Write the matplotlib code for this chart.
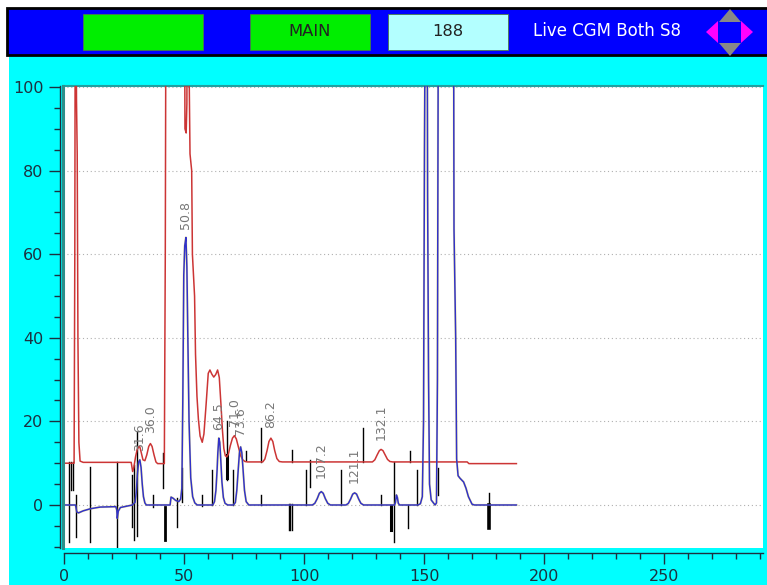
import matplotlib
matplotlib.use("Agg")
import matplotlib.pyplot as plt
from matplotlib.patches import Rectangle, Polygon
from matplotlib.ticker import MultipleLocator

W, H = 767, 585

# detector traces (time, signal)
red_t = [0, 4.2, 4.5, 4.7, 5.0, 5.2, 5.5, 5.8, 6.2, 6.7, 8, 28, 28.6, 29.1, 29.8, 30.5,
         31.2, 31.6, 32.2, 32.9, 33.7, 34.5, 35.3, 36.0, 36.7, 37.5, 38.3, 39, 41.8, 42.2,
         42.5, 50.2, 50.4, 50.9, 51.2, 51.4, 52.0, 52.2, 52.5, 53.2, 53.5, 54.4, 54.8,
         55.4, 56.0, 56.7, 57.6, 58.3, 59.2, 60.1, 60.8, 61.6, 62.4, 63.2, 64.0, 64.7,
         65.4, 66.0, 66.6, 67.2, 67.8, 68.5, 69.3, 70.2, 71.0, 71.8, 72.7, 73.6, 74.5,
         75.4, 76.5, 82.8, 83.7, 84.6, 85.4, 86.2, 87.0, 87.8, 88.7, 89.7, 91, 128.5,
         129.5, 130.5, 131.4, 132.1, 132.9, 133.8, 134.8, 135.8, 137, 168, 168.7, 188.5]
red_v = [10, 10, 60, 130, 130, 97, 84, 40, 15, 10.5, 10.2, 10.2, 8, 9, 11.5, 13.3,
         14, 13.9, 12.5, 10.8, 10.6, 12, 14, 14.7, 14, 12, 10.3, 9.9, 9.9, 60,
         130, 130, 90, 89, 96, 130, 130, 100, 84, 80, 60, 50, 36,
         26, 20.5, 16.5, 15, 17, 24, 31.5, 32.3, 31.3, 30.6, 31.2, 32.3, 30.5,
         24, 18, 13.5, 11.8, 11.5, 12.2, 14.2, 16, 16.6, 15.8, 13.8, 11.8, 10.8,
         10.4, 10.3, 10.3, 11, 13, 15.2, 16, 15.2, 13, 11.1, 10.4, 10.3, 10.3,
         10.8, 12, 13, 13.3, 13, 12, 10.9, 10.4, 10.3, 10.3, 9.9, 9.9]

blue_t = [0, 4.8, 5.3, 6.0, 8, 11, 15, 21.6, 22.0, 22.2, 22.6, 23.5, 26, 28.5, 29.1,
          29.6, 30.1, 30.6, 31.1, 31.6, 32.1, 32.6, 33.1, 33.7, 34.3, 44.2, 44.6,
          45.5, 46.5, 47.8, 48.6, 49.1, 49.5, 49.9, 50.3, 50.8, 51.2, 51.6, 52.1,
          52.8, 53.6, 54.5, 55.5, 62.0, 62.7, 63.3, 63.8, 64.1, 64.5, 64.9, 65.3,
          65.8, 66.4, 67.1, 68.2, 70.6, 71.4, 72.0, 72.6, 73.1, 73.6, 74.1, 74.6,
          75.2, 75.9, 77.0, 103.5, 104.5, 105.5, 106.4, 107.2, 108.0, 108.9, 109.9,
          111.0, 117.5, 118.5, 119.4, 120.3, 121.1, 121.9, 122.8, 123.7, 124.8,
          137.7, 138.1, 138.5, 138.9, 139.3, 139.8, 147.5, 148.5, 149.3, 149.8,
          150.2, 150.6, 151.3, 151.5, 151.9, 152.3, 153.0, 154.6, 155.2, 155.6,
          156.0, 162.3, 162.5, 163.2, 163.6, 164.2, 165.0, 166.5, 167.5, 168.5,
          170.0, 171.0, 188.5]
blue_v = [0, 0, -1.6, -1.9, -1.4, -0.9, -0.5, -0.4, -1.2, -3.2, -1.5, -0.6, -0.3, 0, 0.4,
          0.6, 3, 7.5, 10.3, 10.8, 9, 5, 2, 0.5, 0, 0, 1.9,
          1.6, 1.1, 0.8, 1.4, 4, 25, 55, 62, 64, 57, 40, 20,
          6.5, 2, 0.5, 0, 0, 0.8, 3.5, 8.5, 12.5, 16, 15, 11,
          5.5, 1.8, 0.4, 0, 0, 0.6, 3.5, 8.5, 12.5, 13.9, 12.5, 8.5,
          3.5, 0.8, 0, 0, 0.4, 1.5, 2.8, 3.2, 2.8, 1.5, 0.4,
          0, 0, 0.4, 1.4, 2.6, 2.9, 2.6, 1.4, 0.4, 0,
          0, 0.6, 2.4, 1.8, 0.4, 0, 0, 0.3, 2, 20,
          85.7, 130, 130, 74, 30, 5, 1.2, 0, 0.5, 30,
          130, 130, 66, 40, 11, 7, 6.4, 5.5, 4, 2,
          0.2, 0, 0]

# event marks: time, low, high, width
mark_t = [2.0, 2.9, 3.6, 5.0, 11.0, 22.0, 28.2, 29.2, 30.3, 37.0, 41.1, 42.2, 47.0,
          49.0, 57.4, 61.5, 68.0, 67.8, 70.5, 76.0, 82.0, 82.0, 93.7, 94.3, 94.9,
          94.9, 100.8, 102.5, 115.3, 124.7, 132.0, 136.4, 137.5, 143.5, 144.3,
          147.0, 155.7, 177.0, 177.0]
mark_lo = [-8.8, 3.6, 3.6, -7.6, -8.8, -10.3, -5.2, -8.4, -7.5, -0.4, 4.0, -8.4, -5.2,
           0.8, -0.3, 0, 6.0, 6.5, 0, 10.8, 10.4, 0, -6, -6, -6,
           10.4, 0, 4.4, 0, 10.4, 0, -6.1, -8.8, -5.6, 10.4,
           0, 2.4, -0.2, -5.6]
mark_hi = [10.2, 10.2, 10.2, 2.4, 9.0, 10.4, 7.2, 9.6, 17.5, 2.4, 12.4, -0.4, 1.6,
           8.8, 2.4, 8.4, 20.0, 12.0, 8.4, 13.0, 18.4, 2.4, 0.3, 0.3, 0.3,
           13.2, 8.4, 10.8, 8.4, 18.4, 2.4, -0.2, 10.4, 0, 13.0,
           8.4, 8.8, 2.8, 0]
mark_w = [1, 1, 1, 1, 1, 1, 1, 1, 1, 1, 1, 2, 1,
          1, 1, 1, 1, 2.2, 1, 1, 1, 1, 1, 1, 1,
          1, 1, 1, 1, 1, 1, 2.2, 1, 1, 1,
          1, 1, 1, 2.6]

peak_times = [31.6, 36.0, 50.8, 64.5, 71.0, 73.6, 86.2, 107.2, 121.1, 132.1]
peak_heights = [10.8, 14.7, 64.0, 16.0, 16.6, 13.9, 16.0, 3.2, 2.9, 13.3]
label_gap = [2.0, 2.5, 2.0, 2.0, 2.4, 2.8, 2.4, 3.3, 2.4, 2.2]

yticks = [0, 20, 40, 60, 80, 100]
xticks = [0, 50, 100, 150, 200, 250]


def fx(px):
    return px / W


def fy(py):
    return 1 - py / H


fig = plt.figure(figsize=(W / 100, H / 100), dpi=100, facecolor="white")

# background panel and header bar
fig.patches.append(Rectangle((fx(9), 0), 1, fy(55), transform=fig.transFigure,
                             facecolor="#00ffff", edgecolor="none", zorder=-2))
fig.patches.append(Rectangle((fx(7), fy(55)), 1, 47 / H, transform=fig.transFigure,
                             facecolor="#0000ff", edgecolor="black", lw=2, zorder=1))
for x0, x1, col, txt in [(83, 203, "#00ee00", ""), (250, 370, "#00ee00", "MAIN"),
                         (388, 508, "#b3ffff", "188")]:
    fig.patches.append(Rectangle((fx(x0), fy(50)), (x1 - x0) / W, 36 / H,
                                 transform=fig.transFigure, facecolor=col,
                                 edgecolor="#4a7a4a", lw=0.6, zorder=2))
    if txt:
        fig.text(fx((x0 + x1) / 2), fy(32), txt, ha="center", va="center",
                 fontsize=11.8, color="#222222", zorder=3)
fig.text(fx(607), fy(31), "Live CGM Both S8", ha="center", va="center",
         fontsize=12, color="white", zorder=3)

# navigation arrows
grey = "#888888"
arrows = [
    ([(719, 22), (741, 22), (730, 9)], grey),
    ([(719, 43), (741, 43), (730, 56)], grey),
    ([(718, 21), (718, 43), (706, 32)], "#ff00ff"),
    ([(741, 21), (741, 43), (753, 32)], "#ff00ff"),
]
for pts, col in arrows:
    fig.patches.append(Polygon([(fx(a), fy(b)) for a, b in pts], closed=True,
                               transform=fig.transFigure, facecolor=col,
                               edgecolor="none", zorder=3))

ax = fig.add_axes([fx(63), fy(548), 700 / W, 462 / H])
ax.set_zorder(5)
ax.set_facecolor("white")
ax.set_xlim(-0.42, 291.25)
ax.set_ylim(-10.29, 100.24)

ax.set_yticks(yticks)
ax.set_xticks(xticks)
ax.yaxis.set_minor_locator(MultipleLocator(5))
ax.xaxis.set_minor_locator(MultipleLocator(10))
ax.grid(axis="y", which="major", linestyle=(0, (1, 2.5)), color="#b0b0b0", lw=0.8)

tick_col = "#1d3140"
ax.spines["left"].set_position(("outward", 2.5))
ax.spines["bottom"].set_position(("outward", 3.7))
ax.spines["right"].set_visible(False)
ax.spines["top"].set_color("#22a0a0")
ax.spines["top"].set_linewidth(1.5)
for s in ("left", "bottom"):
    ax.spines[s].set_color(tick_col)
    ax.spines[s].set_linewidth(1.0)
ax.spines["bottom"].set_bounds(0, 291.25)
ax.tick_params(which="major", length=8, width=1, color=tick_col, labelcolor=tick_col,
               labelsize=11.5, pad=3.5)
ax.tick_params(which="minor", length=4.5, width=1, color=tick_col)
ax.plot([0, 0], [0, 1], transform=ax.transAxes, color="#2e8f8a", lw=2.2,
        clip_on=False, zorder=5)

# event marks
for t, lo, hi, w in zip(mark_t, mark_lo, mark_hi, mark_w):
    ax.plot([t, t], [lo, hi], color="black", lw=w, zorder=2)

ax.plot(red_t, red_v, color="#cc3535", lw=1.1, zorder=3)
ax.plot(blue_t, blue_v, color="#e0d000", lw=1.6, alpha=0.35, zorder=3)
ax.plot(blue_t, blue_v, color="#3232c8", lw=1.1, zorder=4)

for t, h, g in zip(peak_times, peak_heights, label_gap):
    ax.text(t, h + g, f"{t:.1f}", rotation=90, ha="center", va="bottom",
            fontsize=9, color="#777777", zorder=6)

fig.savefig("out.png", dpi=100, facecolor=fig.get_facecolor())
